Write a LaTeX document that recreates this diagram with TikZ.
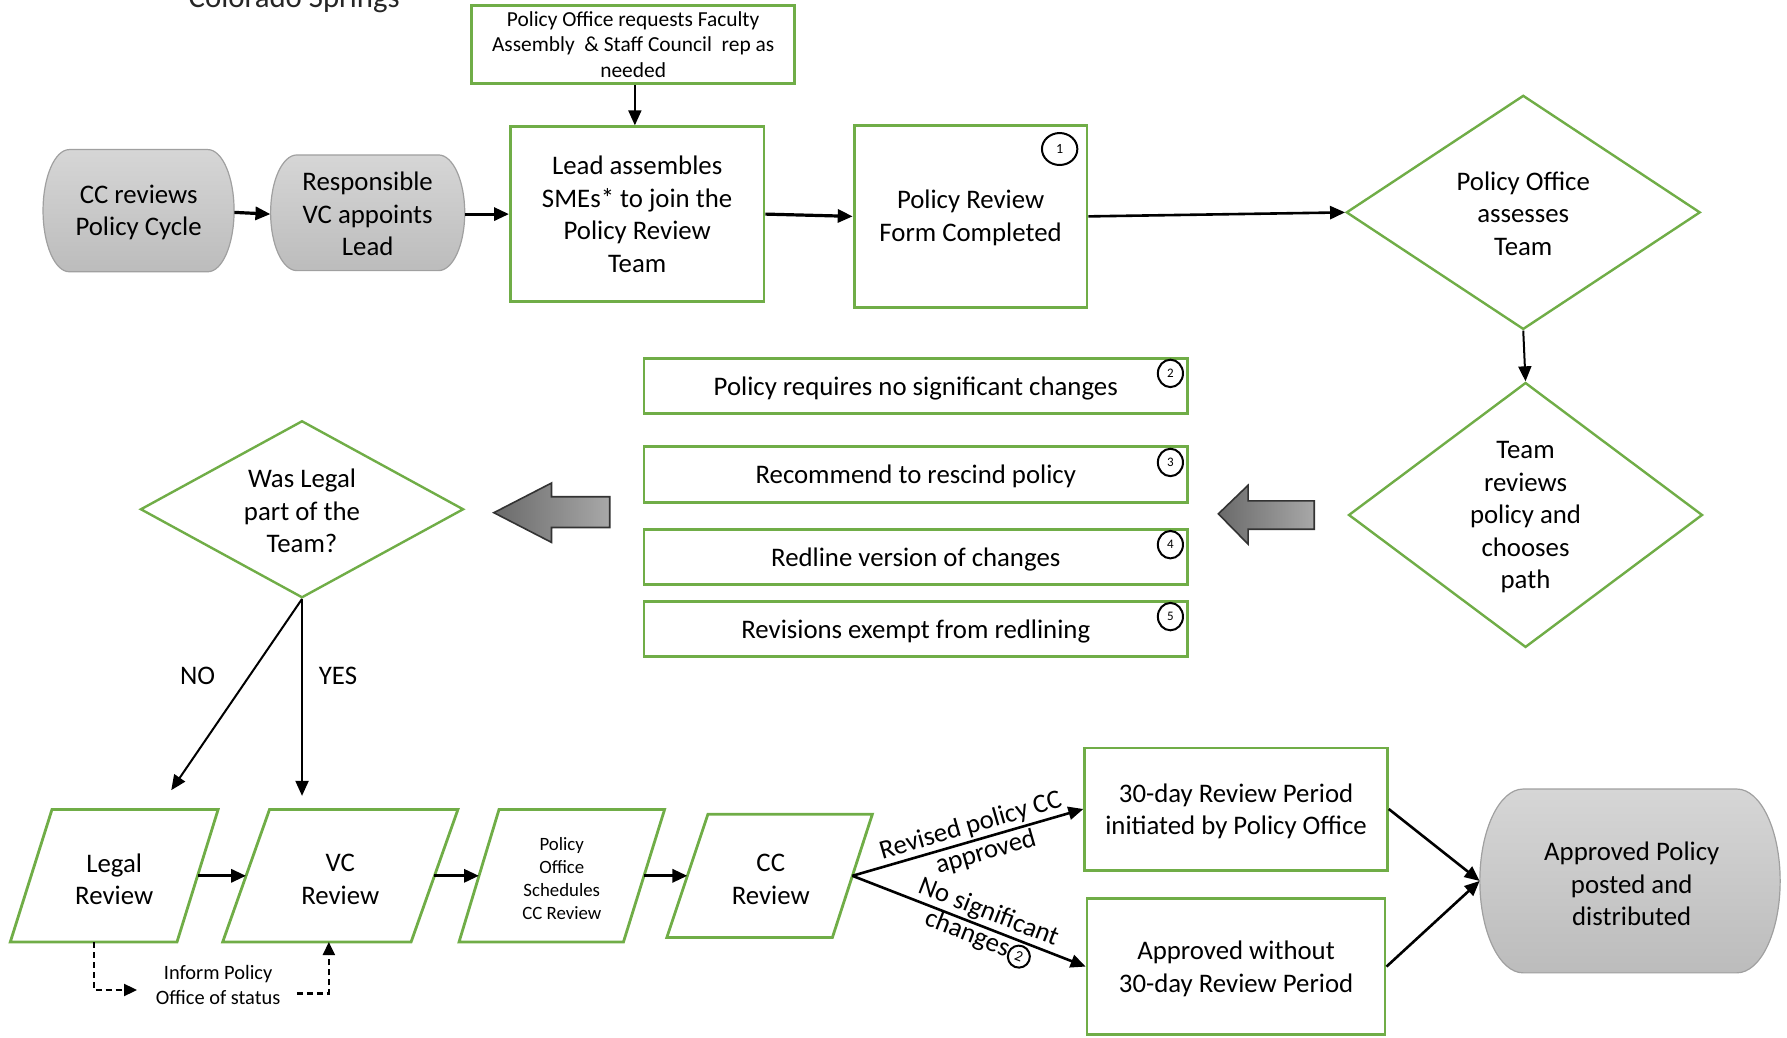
\documentclass[tikz,border=0pt]{standalone}
\usepackage{fontspec}
\setmainfont{Carlito}
\usetikzlibrary{arrows.meta,shapes.geometric}
\definecolor{grn}{HTML}{70AD47}
\definecolor{blobtop}{HTML}{D6D6D6}
\definecolor{blobbot}{HTML}{BCBCBC}
\definecolor{blobline}{HTML}{A0A0A0}
\definecolor{arrdark}{HTML}{6A6A6A}
\definecolor{arrlight}{HTML}{A8A8A8}
\definecolor{arrline}{HTML}{333333}
\newcommand{\grayblob}[5]{%
  \shade[blob] ({#1+#5},#2) -- ({#3-#5},#2)
    .. controls ({#3-#5+0.552*#5},#2) and (#3,{(#2+#4)/2-0.552*(#4-#2)/2}) .. (#3,{(#2+#4)/2})
    .. controls (#3,{(#2+#4)/2+0.552*(#4-#2)/2}) and ({#3-#5+0.552*#5},#4) .. ({#3-#5},#4)
    -- ({#1+#5},#4)
    .. controls ({#1+#5-0.552*#5},#4) and (#1,{(#2+#4)/2+0.552*(#4-#2)/2}) .. (#1,{(#2+#4)/2})
    .. controls (#1,{(#2+#4)/2-0.552*(#4-#2)/2}) and ({#1+#5-0.552*#5},#2) .. cycle;}
\newcommand{\numcirc}[1]{\tikz[baseline=(nc.base)]\node[draw=black,circle,line width=2pt,inner sep=0pt,minimum size=22pt,font=\fontsize{15}{15}\selectfont](nc){#1};}
\begin{document}
\begin{tikzpicture}[x=1.1418pt,y=-1.1418pt,
 every node/.style={font=\fontsize{26.8}{32.5}\selectfont,align=center,inner sep=0pt,text=black},
 gbox/.style 2 args={draw=grn,line width=2.8pt,rectangle,minimum width={#1*1.1418pt},minimum height={#2*1.1418pt}},
 dia/.style 2 args={draw=grn,line width=2.4pt,diamond,minimum width={#1*1.1418pt},minimum height={#2*1.1418pt}},
 boxsize/.style 2 args={minimum width={#1*1.1418pt},minimum height={#2*1.1418pt}},
 para/.style={draw=grn,line width=2.8pt,line join=miter},
 blob/.style={top color=blobtop,bottom color=blobbot,draw=blobline,line width=1.2pt},
 blk/.style={left color=arrdark,right color=arrlight,draw=arrline,line width=1.6pt},
 arr/.style={draw=black,line width=2.6pt,-{Triangle[length=15pt,width=13pt]}},
 arrthick/.style={arr,line width=3.2pt},
 arrthin/.style={arr,line width=2pt},
 dsh/.style={draw=black,line width=2.2pt,dash pattern=on 6pt off 4pt,-{Triangle[length=13pt,width=12pt]}},
 numc/.style 2 args={draw=black,ellipse,line width=2pt,minimum width={#1*1.1418pt},minimum height={#2*1.1418pt},font=\fontsize{13}{13}\selectfont},
]
\useasboundingbox (0,0) rectangle (1565,908.2);

% title fragment
\node[anchor=base,font=\fontsize{30.8}{36}\selectfont,text=black!85] (cs) at (257.7,6.4) {Colorado Springs};

% top row
\grayblob{37.7}{131}{205}{238}{23}
\node[boxsize={167.3}{107}] (cc) at (121.4,186) {CC reviews\\Policy Cycle};
\grayblob{237}{135.7}{407}{237}{23}
\node[boxsize={170}{101.3}] (resp) at (322,187.5) {Responsible\\VC appoints\\Lead};
\node[gbox={283}{68},font=\fontsize{21.4}{25.7}\selectfont] (req) at (554.5,39) {Policy Office requests Faculty\\Assembly\ \ \& Staff Council\ \ rep as\\needed};
\node[gbox={222}{153}] (lead) at (558,187.5) {Lead assembles\\SMEs* to join the\\Policy Review\\Team};
\node[gbox={204}{159}] (form) at (850,189.5) {};
\node (formt) at (850,191) {Policy Review\\Form Completed};
\node[numc={31}{28},font=\fontsize{14}{14}\selectfont] (n1) at (928,130.5) {1};
\node[dia={310}{205}] (d1) at (1334,186) {};
\node (d1t) at (1334,187) {Policy Office\\assesses\\Team};
\node[dia={310}{232}] (d2) at (1336,451) {};
\node (d2t) at (1336,453) {Team\\reviews\\policy and\\chooses\\path};

\coordinate (ax) at (556,0);
\draw[arrthick] (cc.east) -- (resp.west);
\draw[arrthick] (resp.east) -- (lead.west);
\draw[arrthin] (req.south -| ax) -- (lead.north -| ax);
\draw[arrthick] (lead.east) -- (form.west);
\draw[arr] (form.east) -- (d1.west);
\draw[arrthin] (d1.south) -- (d2.north);

% option boxes
\node[gbox={476}{48}] (o2) at (802,338) {};
\node (o2t) at (802,340.5) {Policy requires no significant changes};
\node[numc={22}{24}] (n2) at (1025,327) {2};
\node[gbox={476}{49}] (o3) at (802,415.5) {};
\node (o3t) at (802,417.5) {Recommend to rescind policy};
\node[numc={22}{24}] (n3) at (1025,405) {3};
\node[gbox={476}{48}] (o4) at (802,488) {};
\node (o4t) at (802,490) {Redline version of changes};
\node[numc={22}{24}] (n4) at (1025,477) {4};
\node[gbox={476}{48}] (o5) at (802,551) {};
\node (o5t) at (802,553) {Revisions exempt from redlining};
\node[numc={22}{24}] (n5) at (1025,540) {5};

% block arrows
\shade[blk] (432.5,449) -- (483,423) -- (483,435) -- (534,435) -- (534,462) -- (483,462) -- (483,475) -- cycle;
\shade[blk] (1067,450) -- (1093,425) -- (1093,438.7) -- (1151,438.7) -- (1151,463.5) -- (1093,463.5) -- (1093,476.5) -- cycle;

% legal decision
\node[dia={283}{155}] (d3) at (264.5,446) {};
\node (d3t) at (264.5,447.5) {Was Legal\\part of the\\Team?};
\coordinate (noEnd) at (150,692);
\coordinate (yesEnd) at (264.5,697);
\draw[arrthin] (d3.south) -- (noEnd);
\draw[arrthin] (d3.south) -- (yesEnd);
\node (no) at (173,592) {NO};
\node (yes) at (296,592) {YES};

% parallelograms
\draw[para] (45.5,709) -- (191,709) -- (155,825) -- (9,825) -- cycle;
\node (legal) at (100,770) {Legal\\Review};
\draw[para] (236,709) -- (401,709) -- (360,825) -- (195,825) -- cycle;
\node (vc) at (298,770) {VC\\Review};
\draw[para] (437,709) -- (582,709) -- (546,825) -- (402,825) -- cycle;
\node[font=\fontsize{18.8}{22.8}\selectfont] (po) at (492,769.5) {Policy\\Office\\Schedules\\CC Review};
\draw[para] (620,713) -- (764,713) -- (729,821) -- (584,821) -- cycle;
\node (ccrev) at (675,770) {CC\\Review};

\coordinate (legalR) at (173,767);
\coordinate (vcL) at (215.5,767);
\coordinate (vcR) at (380.5,767);
\coordinate (poL) at (419.5,767);
\coordinate (poR) at (564,767);
\coordinate (ccL) at (602,767);
\coordinate (ccR) at (746.5,767);
\draw[arrthick] (legalR) -- (vcL);
\draw[arrthick] (vcR) -- (poL);
\draw[arrthick] (poR) -- (ccL);

% dashed inform
\coordinate (legalB) at (82,825);
\coordinate (inA) at (120,867);
\coordinate (inB) at (260,870);
\coordinate (vcB) at (288,825);
\node[font=\fontsize{20.4}{25}\selectfont] (inform) at (191,863) {Inform Policy\\Office of status};
\draw[dsh] (legalB) |- (inA);
\draw[dsh] (inB) -| (vcB);

% outcomes
\node[gbox={265}{107}] (d30) at (1082.5,708.5) {};
\node (d30t) at (1082.5,710.5) {30-day Review Period\\initiated by Policy Office};
\node[gbox={261}{119}] (appr) at (1082.5,846.5) {};
\node (apprt) at (1082.5,848.5) {Approved without\\30-day Review Period};
\grayblob{1296}{691}{1559}{852}{38}
\node[boxsize={263}{161}] (final) at (1427.5,771.5) {};
\node (finalt) at (1429,774) {Approved Policy\\posted and\\distributed};

\draw[arr] (ccR) -- node[sloped,above=2pt,pos=0.53]{Revised policy CC} node[sloped,below=2pt,pos=0.56]{approved} (d30.west);
\draw[arr] (ccR) -- node[sloped,above=2pt,pos=0.56]{No significant} node[sloped,below=1pt,pos=0.56]{changes\numcirc{2}} (appr.west);
\draw[arr] (d30.east) -- (final.west);
\draw[arr] (appr.east) -- (final.west);
\end{tikzpicture}
\end{document}
